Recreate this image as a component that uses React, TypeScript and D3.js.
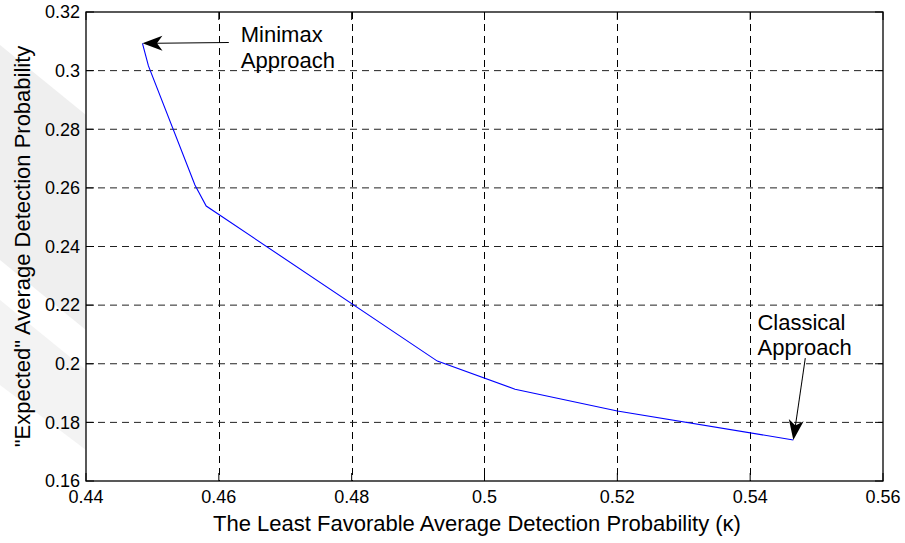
import React from "react";
import * as d3 from "d3";

const kappa = [0.4485, 0.4494, 0.4564, 0.4581, 0.4929, 0.5046, 0.52, 0.5465];
const expected = [0.3093, 0.3016, 0.261, 0.2538, 0.2009, 0.1913, 0.1839, 0.174];

const xTicks = [0.44, 0.46, 0.48, 0.5, 0.52, 0.54, 0.56];
const yTicks = [0.16, 0.18, 0.2, 0.22, 0.24, 0.26, 0.28, 0.3, 0.32];

const xTitle = "The Least Favorable Average Detection Probability (\u03BA)";
const yTitle = "\"Expected\" Average Detection Probability";

const minimaxText = ["Minimax", "Approach"];
const classicalText = ["Classical", "Approach"];
const minimaxArrowTail = [0.4615, 0.3096];
const classicalArrowTail = [0.5483, 0.2019];
const minimaxTextPos = [0.4633, 0.3098];
const classicalTextPos = [0.5411, 0.2115];

const W = 905;
const H = 543;
const L = 86;
const R = 883;
const T = 12;
const B = 481;
const FONT = "'Liberation Sans', Arial, Helvetica, sans-serif";

function Arrow({ x1, y1, x2, y2 }: { x1: number; y1: number; x2: number; y2: number }) {
  const ang = (Math.atan2(y2 - y1, x2 - x1) * 180) / Math.PI;
  const len = Math.hypot(x2 - x1, y2 - y1);
  return (
    <g transform={`translate(${x2},${y2}) rotate(${ang})`}>
      <line x1={-len} y1={0} x2={-14} y2={0} stroke="#000" strokeWidth={1} />
      <path d="M0,0 L-20,-7.5 L-14.5,0 L-20,7.5 Z" fill="#000" />
    </g>
  );
}

export default function App() {
  const x = d3.scaleLinear().domain([0.44, 0.56]).range([L, R]);
  const y = d3.scaleLinear().domain([0.16, 0.32]).range([B, T]);
  const pts: [number, number][] = kappa.map((k, i) => [k, expected[i]]);
  const line = d3
    .line<[number, number]>()
    .x((d) => x(d[0]))
    .y((d) => y(d[1]));

  return (
    <svg
      width={W}
      height={H}
      style={{ position: "absolute", left: 0, top: 0, background: "#fff" }}
      fontFamily={FONT}
    >
      <rect x={0} y={0} width={W} height={H} fill="#fff" />
      {/* faint watermark in the margin */}
      <polygon points="0,45 86,115 86,330 0,260" fill="#efefef" />
      <polygon points="0,300 86,370 86,450 0,385" fill="#f3f3f3" />
      <rect x={L} y={T} width={R - L} height={B - T} fill="#fff" />

      {/* grid */}
      {xTicks.slice(1, -1).map((t) => (
        <line
          key={"gx" + t}
          x1={Math.round(x(t)) + 0.5}
          x2={Math.round(x(t)) + 0.5}
          y1={T}
          y2={B}
          stroke="#000"
          strokeWidth={1}
          strokeDasharray="7,5"
        />
      ))}
      {yTicks.slice(1, -1).map((t) => (
        <line
          key={"gy" + t}
          x1={L}
          x2={R}
          y1={y(t)}
          y2={y(t)}
          stroke="#222"
          strokeWidth={1}
          strokeDasharray="7,5"
        />
      ))}

      {/* ticks inside on all sides */}
      {xTicks.map((t) => (
        <g key={"tx" + t}>
          <line x1={x(t)} x2={x(t)} y1={B} y2={B - 8} stroke="#000" />
          <line x1={x(t)} x2={x(t)} y1={T} y2={T + 8} stroke="#000" />
        </g>
      ))}
      {yTicks.map((t) => (
        <g key={"ty" + t}>
          <line x1={L} x2={L + 8} y1={y(t)} y2={y(t)} stroke="#000" />
          <line x1={R} x2={R - 8} y1={y(t)} y2={y(t)} stroke="#000" />
        </g>
      ))}

      {/* data */}
      <path d={line(pts) || ""} fill="none" stroke="#0000ff" strokeWidth={1.1} />

      {/* box */}
      <rect x={L} y={T} width={R - L} height={B - T} fill="none" stroke="#000" strokeWidth={1.3} />

      {/* tick labels */}
      {xTicks.map((t) => (
        <text key={"lx" + t} x={x(t)} y={503} textAnchor="middle" fontSize={18} fill="#000">
          {d3.format("~g")(t)}
        </text>
      ))}
      {yTicks.map((t) => (
        <text key={"ly" + t} x={80} y={y(t) + 6.3} textAnchor="end" fontSize={18} fill="#000">
          {d3.format("~g")(t)}
        </text>
      ))}

      {/* titles */}
      <text x={477} y={531} textAnchor="middle" fontSize={22} fill="#000">
        {xTitle}
      </text>
      <text
        transform={`translate(30,${(T + B) / 2}) rotate(-90)`}
        textAnchor="middle"
        fontSize={22}
        fill="#000"
      >
        {yTitle}
      </text>

      {/* annotations */}
      <Arrow
        x1={x(minimaxArrowTail[0])}
        y1={y(minimaxArrowTail[1])}
        x2={x(kappa[0])}
        y2={y(expected[0])}
      />
      <Arrow
        x1={x(classicalArrowTail[0])}
        y1={y(classicalArrowTail[1])}
        x2={x(kappa[kappa.length - 1])}
        y2={y(expected[expected.length - 1])}
      />
      {minimaxText.map((s, i) => (
        <text
          key={"m" + i}
          x={x(minimaxTextPos[0])}
          y={y(minimaxTextPos[1]) + i * 26}
          fontSize={22}
          fill="#000"
        >
          {s}
        </text>
      ))}
      {classicalText.map((s, i) => (
        <text
          key={"c" + i}
          x={x(classicalTextPos[0])}
          y={y(classicalTextPos[1]) + i * 25}
          fontSize={22}
          fill="#000"
        >
          {s}
        </text>
      ))}
    </svg>
  );
}
